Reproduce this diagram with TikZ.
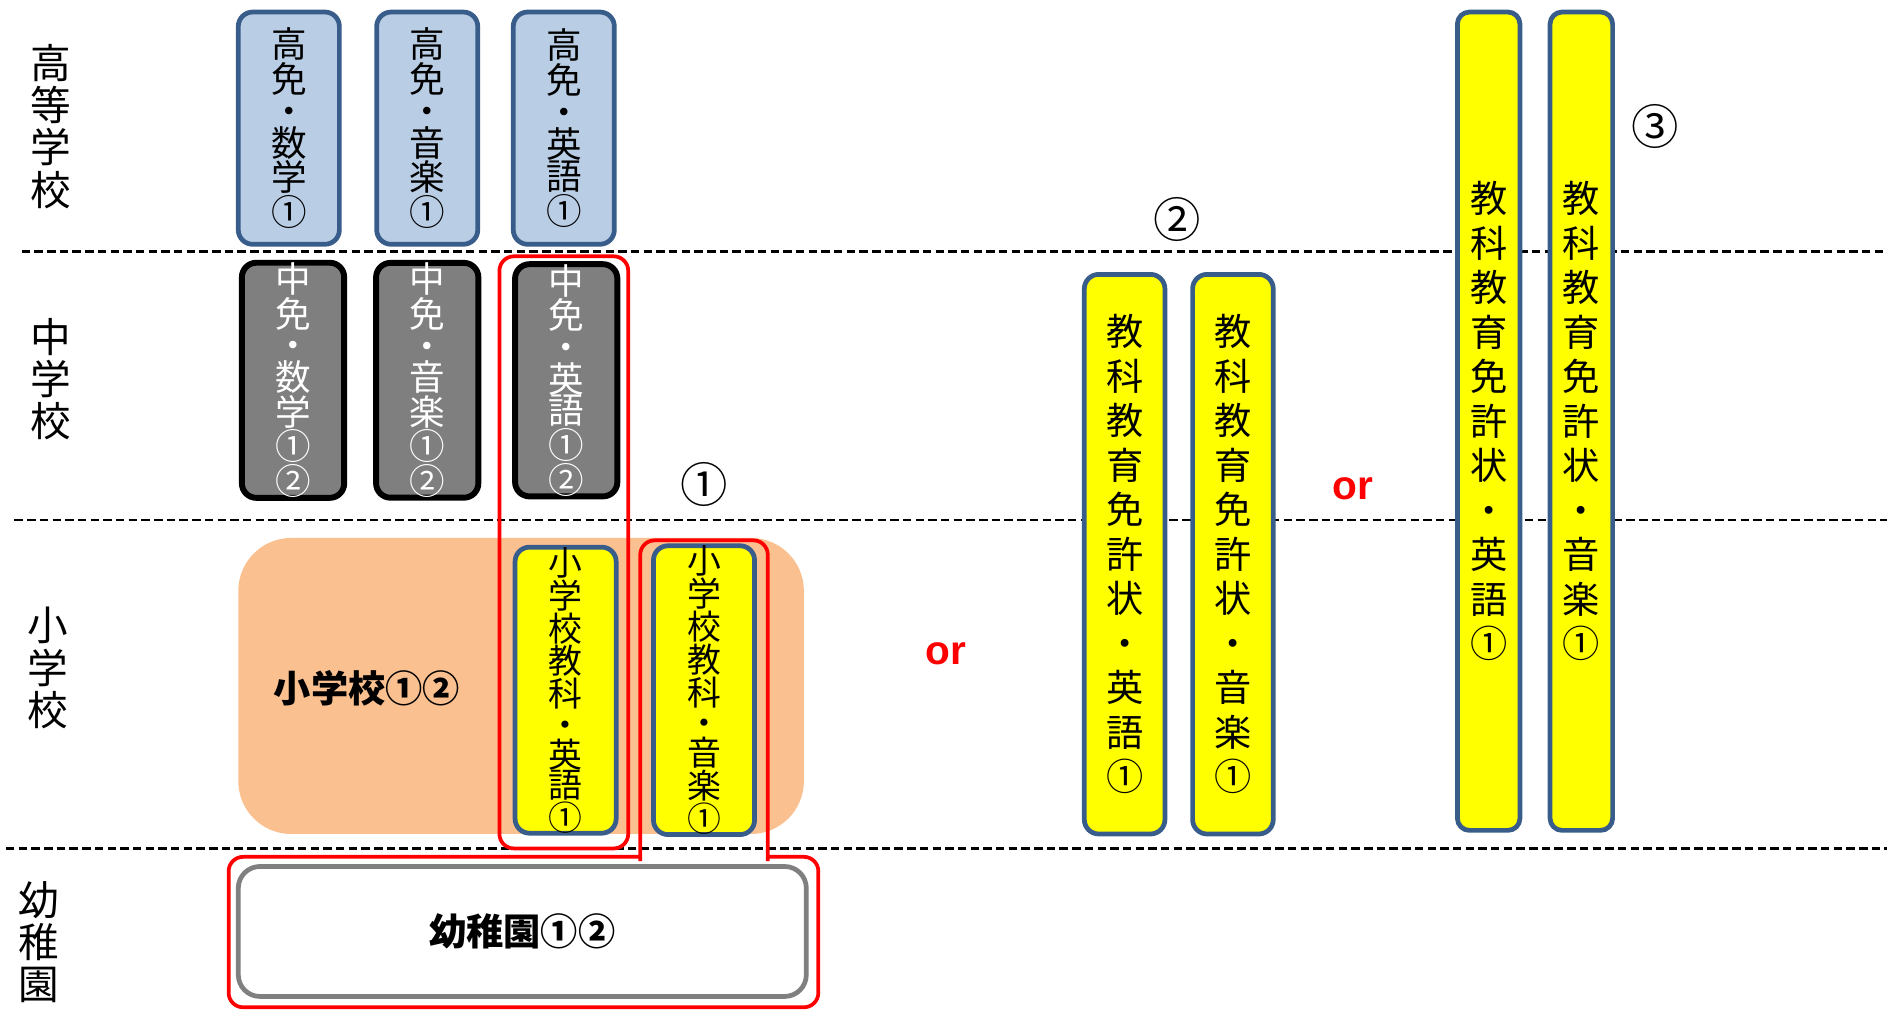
\documentclass[tikz,border=0pt]{standalone}
\usepackage{fontspec}
\newfontfamily\jp{Noto Sans CJK JP}
\newfontfamily\en{Liberation Sans}
\definecolor{waku}{HTML}{385D8A}
\definecolor{mizu}{HTML}{B9CDE5}
\definecolor{hada}{HTML}{FAC090}
\definecolor{nezumi}{HTML}{7F7F7F}
\definecolor{kiiro}{HTML}{FFFF00}
\definecolor{aka}{HTML}{FF0000}

\begin{document}
\begin{tikzpicture}[x=0.025cm, y=-0.025cm, line join=round,
    hako/.style n args={2}{draw, rounded corners=0.3cm, inner sep=0pt, align=center,
      minimum width=#1*0.025cm, minimum height=#2*0.025cm},
    kou/.style={hako={84}{193}, draw=waku, fill=mizu, line width=2.8pt, font=\jp\fontsize{21}{19}\selectfont},
    chu/.style={hako={85}{192}, draw=black, fill=nezumi, text=white, line width=3.5pt, font=\jp\fontsize{21}{18.8}\selectfont},
    sho/.style={hako={84}{237}, draw=waku, fill=kiiro, line width=2.8pt, font=\jp\fontsize{20}{17.8}\selectfont},
    kyo/.style={hako={#1}{465}, draw=waku, fill=kiiro, line width=2.8pt, font=\jp\fontsize{22}{26.3}\selectfont},
    kyo3/.style={hako={52}{680}, draw=waku, fill=kiiro, line width=2.8pt, rounded corners=0.25cm, font=\jp\fontsize{22}{26.3}\selectfont},
    dan/.style={align=center, font=\jp\fontsize{24}{25}\selectfont},
    kugiri/.style={line width=1.4pt, dash pattern=on 5pt off 2.5pt},
    akawaku/.style={draw=aka, line width=2.2pt},
    maru/.style={font=\jp\fontsize{28}{28}\selectfont},
    orlab/.style={text=aka, font=\en\bfseries\fontsize{24}{24}\selectfont},
    futo/.style={font=\jp\bfseries\fontsize{22}{22}\selectfont}]
\useasboundingbox (0,0) rectangle (1568,840);

% school levels
\node[dan] (koukou) at (42,105) {高\\等\\学\\校};
\node[dan] (chugaku) at (42,315) {中\\学\\校};
\node[dan] (shogaku) at (40,555) {小\\学\\校};
\node[dan] (yochien) at (32,783) {幼\\稚\\園};
\draw[kugiri] (18,209) -- (1568,209);
\draw[kugiri] (12,432) -- (1568,432);
\draw[kugiri] (5,705) -- (1568,705);

% high school
\node[kou] (k1) at (240,106.5) {高\\免\\・\\数\\学\\①};
\node[kou] (k2) at (355,106.5) {高\\免\\・\\音\\楽\\①};
\node[kou] (k3) at (468.5,106.5) {高\\免\\・\\英\\語\\①};

% junior high
\node[chu] (c1) at (243.5,316) {中\\免\\・\\数\\学\\①\\②};
\node[chu] (c2) at (355,316) {中\\免\\・\\音\\楽\\①\\②};
\node[chu] (c3) at (470.5,316) {中\\免\\・\\英\\語\\①\\②};

% elementary
\fill[hada, rounded corners=1.1cm] (198,447) rectangle (668,693);
\node[futo] (s0) at (305,572) {小学校①②};
\node[sho] (s1) at (470,573.5) {小\\学\\校\\教\\科\\・\\英\\語\\①};
\node[sho] (s2) at (585,573.5) {小\\学\\校\\教\\科\\・\\音\\楽\\①};

% kindergarten
\node[hako={472}{108}, draw=gray, line width=2.8pt, rounded corners=0.45cm, futo] (y1) at (434,774) {幼稚園①②};

% red frames
\draw[akawaku, rounded corners=0.3cm] (415,213) rectangle (522,705);
\draw[akawaku, rounded corners=0.3cm, line cap=rect]
  (532,714) -- (532,449) -- (638,449) -- (638,714)
  (638,712) -- (680,712) -- (680,837) -- (190,837) -- (190,712) -- (532,712);

% other subject licences
\node[maru] (m1) at (585,403) {①};
\node[maru] (m2) at (978,182) {②};
\node[maru] (m3) at (1375,105) {③};
\node[orlab] (or1) at (786,543) {or};
\node[orlab] (or2) at (1124,406) {or};
\node[kyo=67] (b1) at (934.5,460.5) {教\\科\\教\\育\\免\\許\\状\\・\\英\\語\\①};
\node[kyo=67] (b2) at (1024.5,460.5) {教\\科\\教\\育\\免\\許\\状\\・\\音\\楽\\①};
\node[kyo3] (d1) at (1237,350) {教\\科\\教\\育\\免\\許\\状\\・\\英\\語\\①};
\node[kyo3] (d2) at (1314,350) {教\\科\\教\\育\\免\\許\\状\\・\\音\\楽\\①};
\end{tikzpicture}
\end{document}
